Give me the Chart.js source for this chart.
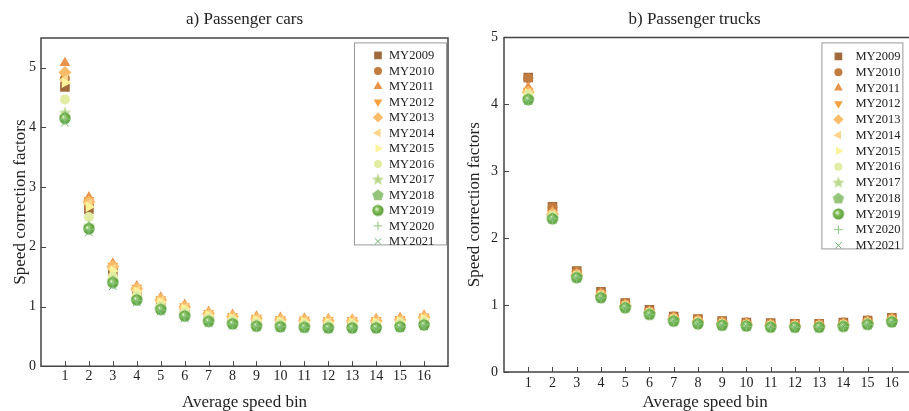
<!DOCTYPE html>
<html>
<head>
<meta charset="utf-8">
<script src="https://cdn.jsdelivr.net/npm/chart.js@4"></script>
<style>
  body { margin: 0; background: #fff; }
  #wrap { display: flex; width: 909px; height: 411px; }
</style>
</head>
<body>
<div id="wrap">
  <canvas id="cars" width="455" height="411"></canvas>
  <canvas id="trucks" width="454" height="411"></canvas>
</div>
<script>
/**
 * Data
 */
const bins = [1, 2, 3, 4, 5, 6, 7, 8, 9, 10, 11, 12, 13, 14, 15, 16];
const years = ['MY2009', 'MY2010', 'MY2011', 'MY2012', 'MY2013', 'MY2014', 'MY2015',
  'MY2016', 'MY2017', 'MY2018', 'MY2019', 'MY2020', 'MY2021'];
const yTicks = [0, 1, 2, 3, 4, 5];

// a) Passenger cars
const cars09 = [4.68, 2.63, 1.58, 1.23, 1.06, 0.94, 0.83, 0.79, 0.76, 0.74, 0.73, 0.72, 0.72, 0.72, 0.74, 0.78];
const cars10 = [4.82, 2.70, 1.64, 1.28, 1.10, 0.98, 0.87, 0.82, 0.79, 0.77, 0.76, 0.75, 0.75, 0.75, 0.77, 0.81];
const cars11 = [5.08, 2.83, 1.72, 1.34, 1.15, 1.03, 0.91, 0.86, 0.83, 0.81, 0.80, 0.79, 0.78, 0.79, 0.81, 0.85];
const cars12 = [4.88, 2.78, 1.68, 1.31, 1.12, 1.00, 0.89, 0.84, 0.81, 0.79, 0.78, 0.77, 0.77, 0.77, 0.79, 0.83];
const cars13 = [4.92, 2.75, 1.67, 1.30, 1.11, 0.99, 0.88, 0.83, 0.80, 0.78, 0.77, 0.76, 0.76, 0.76, 0.78, 0.82];
const cars14 = [4.80, 2.72, 1.63, 1.27, 1.09, 0.97, 0.86, 0.81, 0.78, 0.76, 0.75, 0.74, 0.74, 0.74, 0.76, 0.80];
const cars15 = [4.75, 2.67, 1.60, 1.25, 1.07, 0.96, 0.85, 0.80, 0.77, 0.75, 0.74, 0.73, 0.73, 0.73, 0.75, 0.79];
const cars16 = [4.47, 2.50, 1.50, 1.18, 1.01, 0.90, 0.80, 0.76, 0.72, 0.71, 0.70, 0.69, 0.69, 0.69, 0.71, 0.74];
const cars17 = [4.25, 2.36, 1.44, 1.13, 0.97, 0.86, 0.77, 0.73, 0.69, 0.68, 0.67, 0.66, 0.66, 0.66, 0.68, 0.71];
const cars18 = [4.18, 2.33, 1.42, 1.12, 0.96, 0.85, 0.76, 0.72, 0.68, 0.67, 0.66, 0.65, 0.65, 0.65, 0.67, 0.70];
const cars19 = [4.15, 2.30, 1.40, 1.11, 0.95, 0.84, 0.75, 0.71, 0.67, 0.66, 0.65, 0.64, 0.64, 0.64, 0.66, 0.69];
const cars20 = [4.14, 2.29, 1.39, 1.10, 0.94, 0.83, 0.74, 0.71, 0.67, 0.66, 0.65, 0.64, 0.64, 0.64, 0.66, 0.69];
const cars21 = [4.08, 2.24, 1.34, 1.07, 0.92, 0.80, 0.72, 0.68, 0.65, 0.64, 0.63, 0.62, 0.62, 0.62, 0.64, 0.67];

// b) Passenger trucks
const trucks09 = [4.40, 2.47, 1.51, 1.20, 1.03, 0.93, 0.83, 0.79, 0.76, 0.74, 0.73, 0.72, 0.72, 0.74, 0.77, 0.81];
const trucks10 = [4.39, 2.46, 1.50, 1.19, 1.03, 0.92, 0.83, 0.79, 0.76, 0.74, 0.73, 0.72, 0.72, 0.74, 0.77, 0.81];
const trucks11 = [4.25, 2.40, 1.47, 1.17, 1.01, 0.90, 0.81, 0.77, 0.74, 0.72, 0.71, 0.70, 0.70, 0.72, 0.75, 0.79];
const trucks12 = [4.20, 2.37, 1.46, 1.16, 1.00, 0.90, 0.80, 0.76, 0.73, 0.72, 0.70, 0.70, 0.70, 0.71, 0.74, 0.78];
const trucks13 = [4.18, 2.36, 1.45, 1.15, 0.99, 0.89, 0.80, 0.76, 0.73, 0.71, 0.70, 0.69, 0.69, 0.71, 0.74, 0.78];
const trucks14 = [4.17, 2.35, 1.45, 1.15, 0.99, 0.89, 0.79, 0.75, 0.72, 0.71, 0.69, 0.69, 0.69, 0.70, 0.73, 0.77];
const trucks15 = [4.16, 2.34, 1.44, 1.14, 0.98, 0.88, 0.79, 0.75, 0.72, 0.70, 0.69, 0.68, 0.68, 0.70, 0.73, 0.77];
const trucks16 = [4.14, 2.33, 1.43, 1.13, 0.98, 0.88, 0.78, 0.74, 0.71, 0.70, 0.69, 0.68, 0.68, 0.70, 0.72, 0.76];
const trucks17 = [4.10, 2.31, 1.42, 1.12, 0.97, 0.87, 0.77, 0.73, 0.71, 0.69, 0.68, 0.68, 0.68, 0.69, 0.72, 0.76];
const trucks18 = [4.08, 2.30, 1.42, 1.12, 0.97, 0.87, 0.77, 0.73, 0.70, 0.69, 0.68, 0.67, 0.67, 0.69, 0.72, 0.75];
const trucks19 = [4.07, 2.29, 1.41, 1.11, 0.96, 0.86, 0.76, 0.72, 0.70, 0.69, 0.67, 0.67, 0.67, 0.68, 0.71, 0.75];
const trucks20 = [4.06, 2.29, 1.41, 1.11, 0.96, 0.86, 0.76, 0.72, 0.70, 0.68, 0.67, 0.67, 0.67, 0.68, 0.71, 0.75];
const trucks21 = [4.05, 2.28, 1.40, 1.10, 0.95, 0.85, 0.76, 0.72, 0.69, 0.68, 0.67, 0.66, 0.66, 0.68, 0.70, 0.74];

const carsSeries = [cars09, cars10, cars11, cars12, cars13, cars14, cars15,
  cars16, cars17, cars18, cars19, cars20, cars21];
const trucksSeries = [trucks09, trucks10, trucks11, trucks12, trucks13, trucks14, trucks15,
  trucks16, trucks17, trucks18, trucks19, trucks20, trucks21];

/**
 * Marker look per model year
 */
const FONT = "'Liberation Serif', 'Times New Roman', serif";
const INK = '#222';
const colors = ['#a06a3c', '#c27c40', '#e8944c', '#f6a040', '#fbbc6a', '#fad58a', '#fbf39c',
  '#e2eca2', '#bcd88e', '#93c47a', '#6aab44', '#8cc67e', '#6cb46c'];

function marker(draw) {
  const c = document.createElement('canvas');
  c.width = 14; c.height = 14;
  draw(c.getContext('2d'));
  return c;
}
const starImg = marker(g => {
  g.fillStyle = colors[8];
  g.beginPath();
  for (let i = 0; i < 10; i++) {
    const r = i % 2 ? 2.7 : 6.4;
    const a = -Math.PI / 2 + i * Math.PI / 5;
    g.lineTo(7 + r * Math.cos(a), 7.4 + r * Math.sin(a));
  }
  g.closePath();
  g.fill();
});
const pentaImg = marker(g => {
  g.fillStyle = colors[9];
  g.beginPath();
  for (let i = 0; i < 5; i++) {
    const a = -Math.PI / 2 + i * 2 * Math.PI / 5;
    g.lineTo(7 + 6 * Math.cos(a), 7.5 + 6 * Math.sin(a));
  }
  g.closePath();
  g.fill();
});
const ballImg = marker(g => {
  const grad = g.createRadialGradient(5.5, 5.5, 0.5, 7, 7, 6);
  grad.addColorStop(0, '#e4f4d4');
  grad.addColorStop(0.35, '#86c05a');
  grad.addColorStop(1, '#4f9630');
  g.fillStyle = grad;
  g.beginPath();
  g.arc(7, 7, 5.6, 0, Math.PI * 2);
  g.fill();
});

const shapes = ['rect', 'circle', 'triangle', 'triangle', 'rectRot', 'triangle', 'triangle',
  'circle', starImg, pentaImg, ballImg, 'cross', 'crossRot'];
const turns = [0, 0, 0, 180, 0, -90, 90, 0, 0, 0, 0, 0, 0];
const sizes = [6.8, 5, 6.3, 6.3, 6.5, 6.3, 6.3, 5, 5, 5, 5, 5.5, 5.5];
const lines = [0, 0, 0, 0, 0, 0, 0, 0, 0, 0, 0, 1, 1];

/**
 * Frame, inward ticks and the boxed legend
 */
const framePlugin = {
  id: 'frame',
  afterDatasetsDraw(chart, args, opts) {
    const { ctx, chartArea: a, scales } = chart;
    ctx.save();
    ctx.strokeStyle = '#444';
    ctx.lineWidth = 1.5;
    ctx.beginPath();
    if (opts.openRight) {
      ctx.moveTo(chart.width, a.top);
      ctx.lineTo(a.left, a.top);
      ctx.lineTo(a.left, a.bottom);
      ctx.lineTo(chart.width, a.bottom);
    } else {
      ctx.rect(a.left, a.top, a.right - a.left, a.bottom - a.top);
    }
    ctx.stroke();
    ctx.lineWidth = 1;
    ctx.beginPath();
    scales.x.ticks.filter(t => bins.includes(t.value)).forEach(t => {
      const px = Math.round(scales.x.getPixelForValue(t.value)) + 0.5;
      ctx.moveTo(px, a.bottom);
      ctx.lineTo(px, a.bottom - 5);
    });
    scales.y.ticks.forEach(t => {
      const py = Math.round(scales.y.getPixelForValue(t.value)) + 0.5;
      ctx.moveTo(a.left, py);
      ctx.lineTo(a.left + 5, py);
    });
    ctx.stroke();

    // legend
    const L = opts.legend;
    const bx = a.right - L.right - L.width;
    const by = a.top + L.top;
    ctx.fillStyle = '#fff';
    ctx.fillRect(bx, by, L.width, L.height);
    ctx.strokeStyle = '#9a9a9a';
    ctx.lineWidth = 1;
    ctx.strokeRect(bx + 0.5, by + 0.5, L.width, L.height);
    ctx.font = '12.5px ' + FONT;
    ctx.textBaseline = 'middle';
    ctx.textAlign = 'left';
    chart.data.datasets.forEach((ds, i) => {
      const y = by + L.first + i * L.row;
      ctx.fillStyle = ds.backgroundColor;
      ctx.strokeStyle = ds.borderColor;
      ctx.lineWidth = ds.pointBorderWidth;
      Chart.helpers.drawPoint(ctx, {
        pointStyle: ds.pointStyle,
        rotation: ds.pointRotation,
        radius: ds.pointRadius * 0.8,
        borderWidth: ds.pointBorderWidth
      }, bx + L.mark, y);
      ctx.fillStyle = INK;
      ctx.fillText(ds.label, bx + L.text, y + 0.5);
    });
    ctx.restore();
  }
};

function makeDatasets(series) {
  return series.map((vals, i) => ({
    label: years[i],
    data: bins.map((b, k) => ({ x: b, y: vals[k] })),
    backgroundColor: colors[i],
    borderColor: colors[i],
    pointStyle: shapes[i],
    pointRotation: turns[i],
    pointRadius: sizes[i],
    pointBorderWidth: lines[i],
    order: -i
  }));
}

function makeChart(node, title, series, yMax, lay) {
  return new Chart(node, {
    type: 'scatter',
    data: { datasets: makeDatasets(series) },
    plugins: [framePlugin],
    options: {
      responsive: false,
      animation: false,
      devicePixelRatio: 1,
      layout: {
        autoPadding: false,
        padding: { left: 0, right: lay.right, top: 0, bottom: lay.bottom }
      },
      plugins: {
        legend: { display: false },
        tooltip: { enabled: false },
        title: {
          display: true,
          fullSize: false,
          text: title,
          color: INK,
          font: { family: FONT, size: 17, weight: 'normal', lineHeight: 1.2 },
          padding: { top: 9, bottom: lay.titleGap }
        },
        frame: { openRight: lay.openRight, legend: lay.legend }
      },
      scales: {
        x: {
          type: 'linear',
          min: 0,
          max: lay.xMax,
          // axis ends carry no label, so keep them as blank ticks
          afterBuildTicks: s => { s.ticks = [0, ...bins, lay.xMax].map(v => ({ value: v })); },
          grid: { display: false, drawTicks: false, tickLength: 0 },
          border: { display: false },
          ticks: {
            color: INK,
            padding: lay.xPad,
            maxRotation: 0,
            autoSkip: false,
            callback: v => (bins.includes(v) ? String(v) : ''),
            font: { family: FONT, size: 14, lineHeight: 1.2 }
          },
          title: {
            display: true,
            text: 'Average speed bin',
            color: INK,
            font: { family: FONT, size: 17, lineHeight: 1 },
            padding: { top: lay.xTitleTop, bottom: lay.xTitleBottom }
          }
        },
        y: {
          min: 0,
          max: yMax,
          afterBuildTicks: s => { s.ticks = yTicks.map(v => ({ value: v })); },
          grid: { display: false, drawTicks: false, tickLength: 0 },
          border: { display: false },
          ticks: {
            color: INK,
            padding: lay.yPad,
            font: { family: FONT, size: 14, lineHeight: 1.2 }
          },
          title: {
            display: true,
            text: 'Speed correction factors',
            color: INK,
            font: { family: FONT, size: 17, lineHeight: 1 },
            padding: { top: lay.yTitleTop, bottom: lay.yTitleBottom }
          }
        }
      }
    }
  });
}

makeChart(document.getElementById('cars'), 'a) Passenger cars', carsSeries, 5.5, {
  xMax: 17, right: 7, bottom: 0, titleGap: 8.5, xPad: 2, xTitleTop: 7, xTitleBottom: 0,
  yPad: 5, yTitleTop: 12, yTitleBottom: -5, openRight: false,
  legend: { right: 2, top: 4.5, width: 92, height: 202, first: 13, row: 15.5, mark: 24, text: 35 }
});

// the right panel is cut by the picture edge before the axis reaches 17
makeChart(document.getElementById('trucks'), 'b) Passenger trucks     ', trucksSeries, 5, {
  xMax: 16.6, right: 0, bottom: 0, titleGap: 8, xPad: 2.6, xTitleTop: 0, xTitleBottom: 0,
  yPad: 6, yTitleTop: 11.5, yTitleBottom: 1.5, openRight: true,
  legend: { right: 4, top: 5, width: 81, height: 206, first: 14, row: 15.75, mark: 17, text: 34 }
});
</script>
</body>
</html>
